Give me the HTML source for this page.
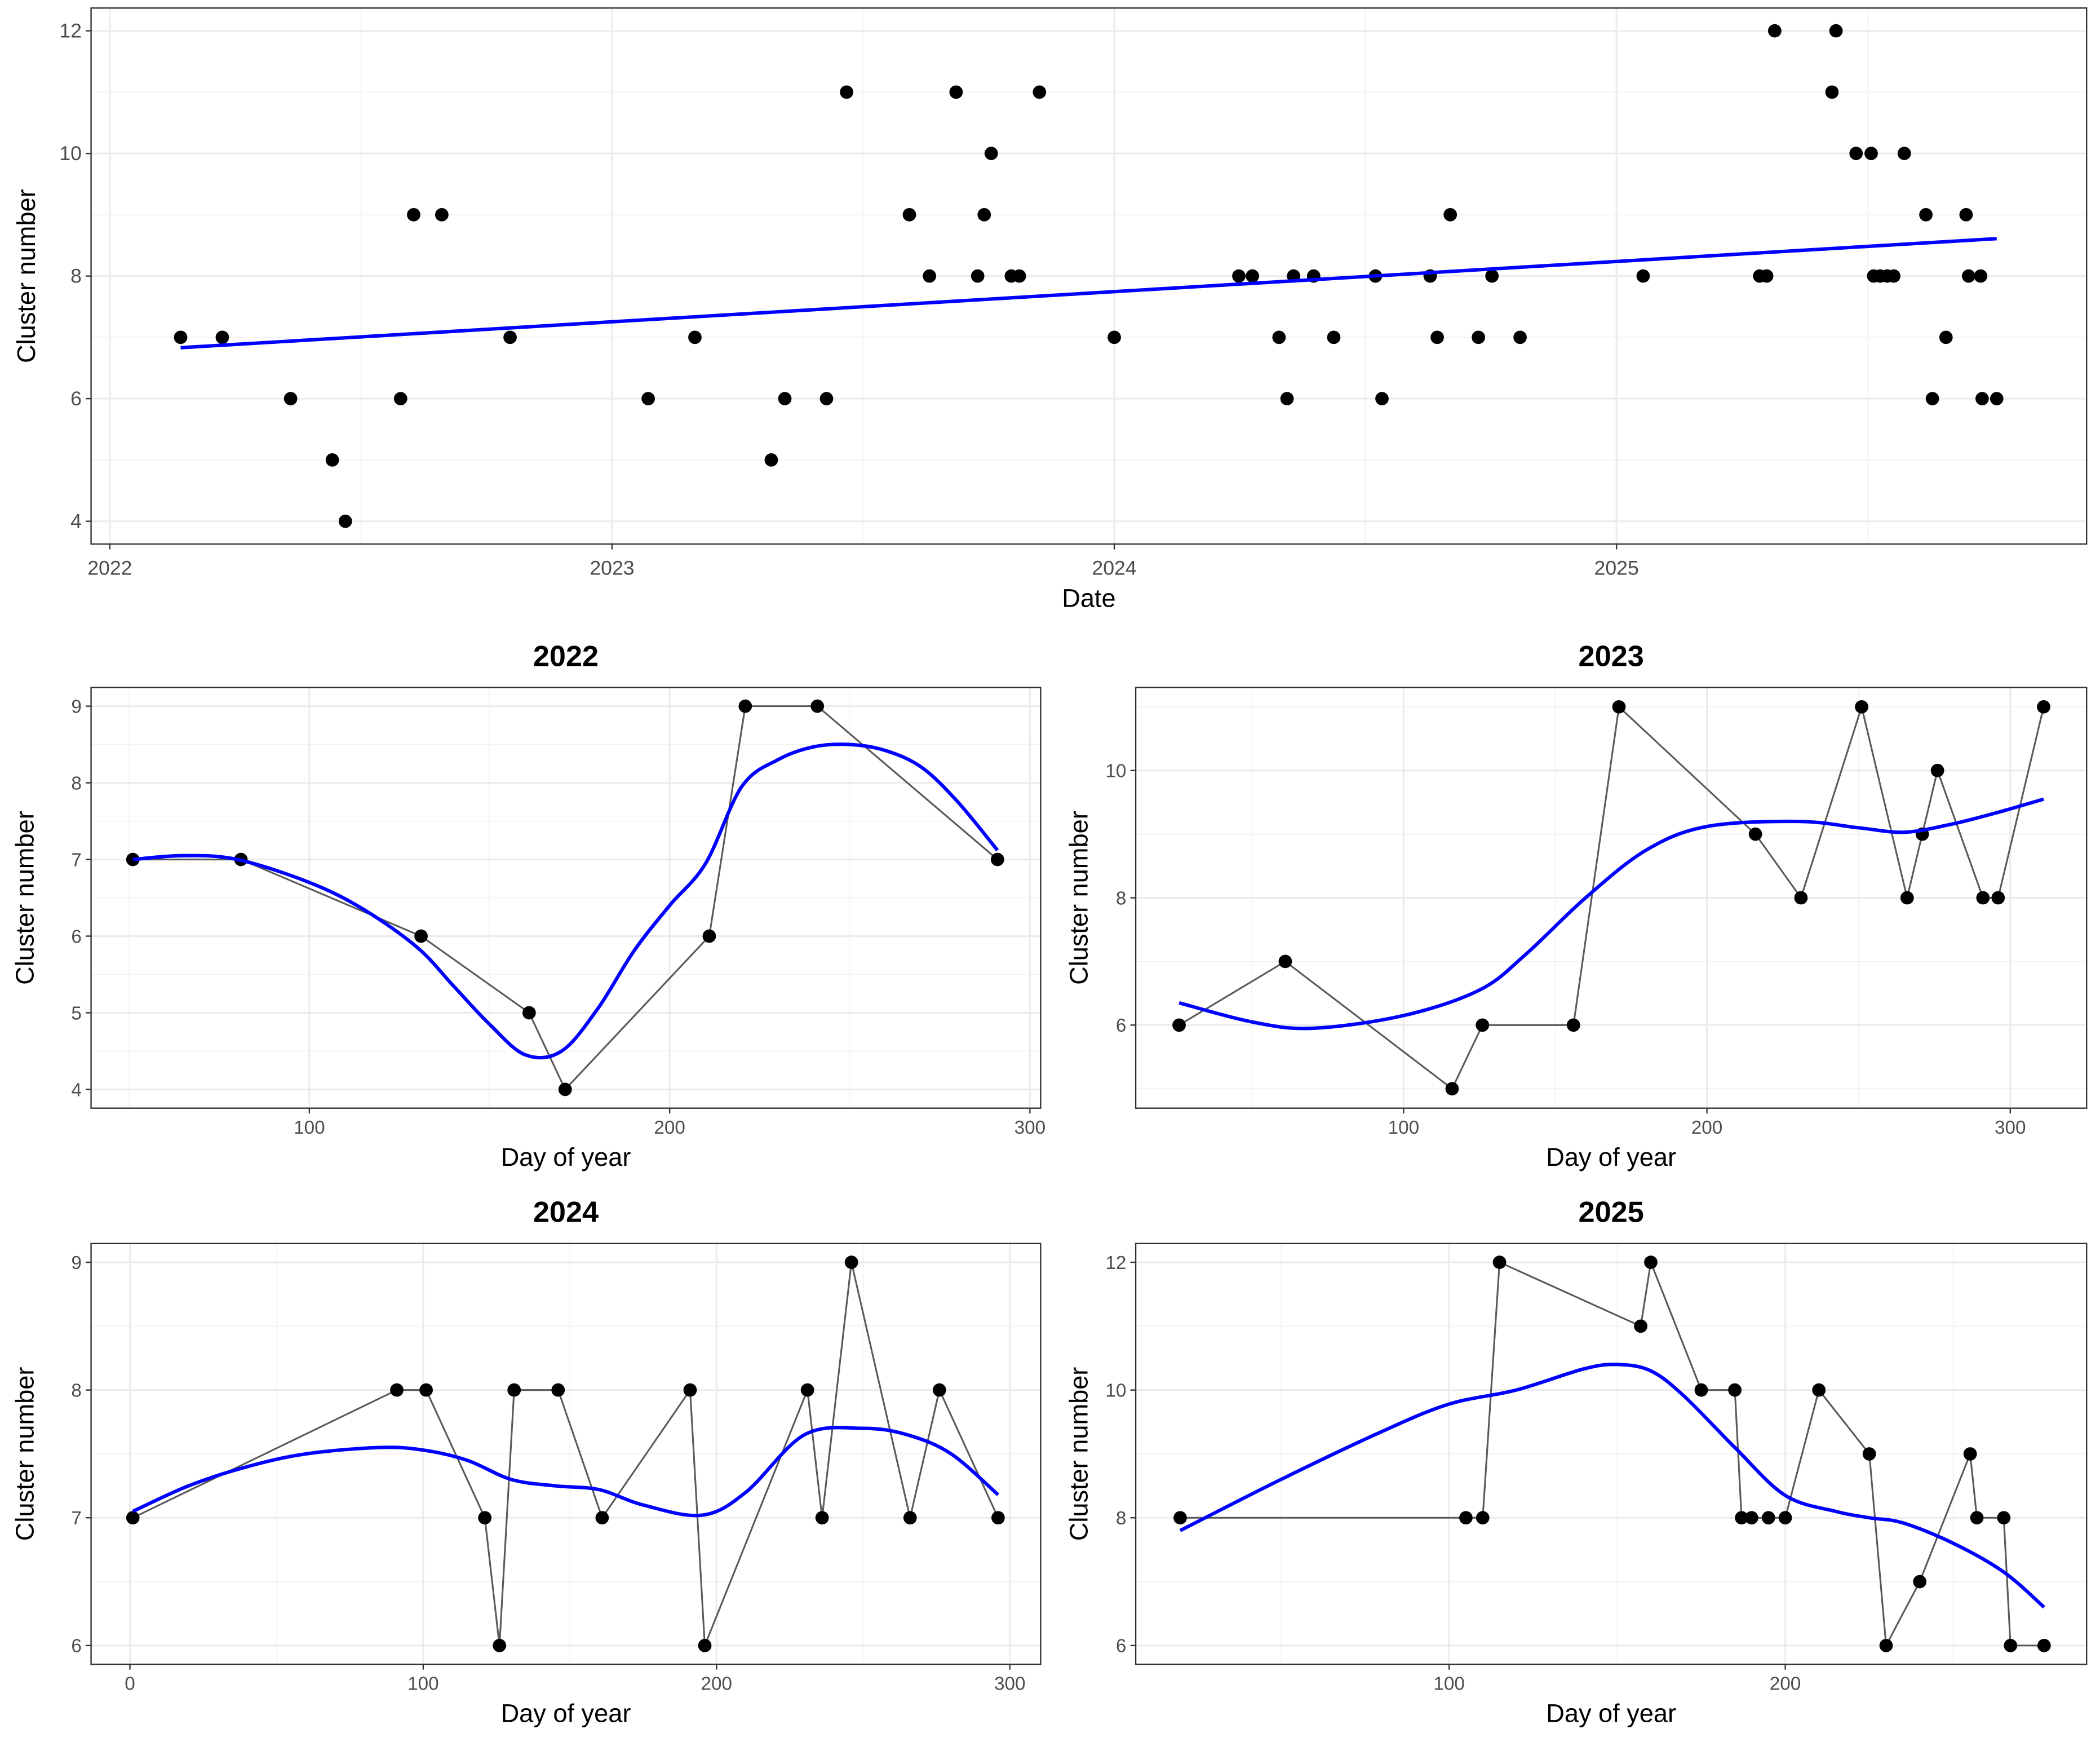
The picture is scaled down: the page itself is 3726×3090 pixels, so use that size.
<!DOCTYPE html>
<html><head><meta charset="utf-8">
<style>
html,body{margin:0;padding:0;background:#fff;}
svg{display:block;}
text{font-family:"Liberation Sans",sans-serif;}
</style></head>
<body>
<svg id="fig" xmlns="http://www.w3.org/2000/svg" width="3726" height="3090" viewBox="0 0 1568 1300" preserveAspectRatio="none"></svg>
<script>
// ---- Top panel data (date as fractional year, cluster number) ----
const topDates = [2022.141,2022.224,2022.360,2022.443,2022.469,2022.579,2022.605,2022.661,2022.797,2023.072,2023.165,2023.317,2023.344,2023.427,2023.467,2023.592,2023.632,2023.685,2023.728,2023.741,2023.755,2023.795,2023.811,2023.851,2024.000,2024.248,2024.275,2024.328,2024.344,2024.357,2024.397,2024.437,2024.520,2024.533,2024.629,2024.643,2024.669,2024.725,2024.752,2024.808,2025.053,2025.285,2025.299,2025.315,2025.429,2025.437,2025.477,2025.507,2025.512,2025.525,2025.539,2025.552,2025.573,2025.616,2025.629,2025.656,2025.696,2025.701,2025.725,2025.728,2025.757];
const topValues = [7,7,6,5,4,6,9,9,7,6,7,5,6,6,11,9,8,11,8,9,10,8,8,11,7,8,8,7,6,8,8,7,8,6,8,7,9,7,8,7,8,8,8,12,11,12,10,10,8,8,8,8,10,9,6,7,9,8,8,6,6];
const topXTicks = [2022,2023,2024,2025];
const topYTicks = [4,6,8,10,12];

// ---- Yearly panels ----
const days2022 = [51,81,131,161,171,211,221,241,291];
const vals2022 = [7,7,6,5,4,6,9,9,7];
const smoothDays2022 = [51,65,80,100,115,130,140,150,160,170,180,190,200,210,220,230,240,250,260,270,280,291];
const smoothVals2022 = [7.0,7.05,7.0,6.7,6.35,5.85,5.35,4.85,4.45,4.5,5.05,5.8,6.4,6.95,7.95,8.3,8.47,8.5,8.42,8.2,7.75,7.12];

const days2023 = [26,61,116,126,156,171,216,231,251,266,271,276,291,296,311];
const vals2023 = [6,7,5,6,6,11,9,8,11,8,9,10,8,8,11];
const smoothDays2023 = [26,50,70,100,125,140,160,180,200,230,250,265,280,295,311];
const smoothVals2023 = [6.35,6.05,5.95,6.15,6.55,7.1,8.0,8.75,9.12,9.2,9.1,9.03,9.15,9.33,9.55];

const days2024 = [1,91,101,121,126,131,146,161,191,196,231,236,246,266,276,296];
const vals2024 = [7,8,8,7,6,8,8,7,8,6,8,7,9,7,8,7];
const smoothDays2024 = [1,20,40,60,85,100,115,130,145,160,175,195,210,230,250,265,280,296];
const smoothVals2024 = [7.05,7.25,7.4,7.5,7.55,7.53,7.45,7.3,7.25,7.22,7.1,7.02,7.2,7.65,7.7,7.65,7.5,7.18];

const days2025 = [20,105,110,115,157,160,175,185,187,190,195,200,210,225,230,240,255,257,265,267,277];
const vals2025 = [8,8,8,12,11,12,10,10,8,8,8,8,10,9,6,7,9,8,8,6,6];
const smoothDays2025 = [20,50,80,100,120,140,150,160,170,185,200,215,225,235,250,265,277];
const smoothVals2025 = [7.8,8.6,9.35,9.78,10.0,10.33,10.4,10.3,9.9,9.1,8.35,8.1,8.0,7.92,7.6,7.15,6.6];

const NS="http://www.w3.org/2000/svg";
const svg=document.getElementById('fig');
function mk(tag,attrs,parent){const e=document.createElementNS(NS,tag);for(const k in attrs)e.setAttribute(k,attrs[k]);(parent||svg).appendChild(e);return e;}

function catmull(pts){
  if(pts.length<3) return 'M'+pts.map(p=>p[0]+','+p[1]).join(' L');
  let d='M'+pts[0][0]+','+pts[0][1];
  for(let i=0;i<pts.length-1;i++){
    const p0=pts[i-1]||pts[i],p1=pts[i],p2=pts[i+1],p3=pts[i+2]||pts[i+1];
    const c1=[p1[0]+(p2[0]-p0[0])/6,p1[1]+(p2[1]-p0[1])/6];
    const c2=[p2[0]-(p3[0]-p1[0])/6,p2[1]-(p3[1]-p1[1])/6];
    d+=' C'+c1[0]+','+c1[1]+' '+c2[0]+','+c2[1]+' '+p2[0]+','+p2[1];
  }
  return d;
}

function panel(cfg){
  const g=mk('g',{});
  
  
  const sx=v=>cfg.px0+(v-cfg.xa)*(cfg.px1-cfg.px0)/(cfg.xb-cfg.xa);
  const sy=v=>cfg.py0+(v-cfg.ya)*(cfg.py1-cfg.py0)/(cfg.yb-cfg.ya);
  const L=cfg.L,R=cfg.R,T=cfg.T,B=cfg.B;
  cfg.xminor.forEach(v=>{const l=mk('line',{x1:sx(v),x2:sx(v),y1:T,y2:B,stroke:'#f2f2f2','stroke-width':0.7},g);});
  cfg.yminor.forEach(v=>{const l=mk('line',{x1:L,x2:R,y1:sy(v),y2:sy(v),stroke:'#f2f2f2','stroke-width':0.7},g);});
  cfg.xticks.forEach(v=>{const l=mk('line',{x1:sx(v),x2:sx(v),y1:T,y2:B,stroke:'#ebebeb','stroke-width':1.3},g);});
  cfg.yticks.forEach(v=>{const l=mk('line',{x1:L,x2:R,y1:sy(v),y2:sy(v),stroke:'#ebebeb','stroke-width':1.3},g);});
  cfg.xticks.forEach(v=>{
    mk('line',{x1:sx(v),x2:sx(v),y1:B,y2:B+4,stroke:'#333','stroke-width':1},g);
    const t=mk('text',{x:sx(v),y:B+cfg.xlo,'text-anchor':'middle','font-size':cfg.tfs,fill:'#4d4d4d'},g);
    t.textContent=v;
    
    
  });
  cfg.yticks.forEach(v=>{
    mk('line',{x1:L-4,x2:L,y1:sy(v),y2:sy(v),stroke:'#333','stroke-width':1},g);
    const t=mk('text',{x:L-7,y:sy(v)+5,'text-anchor':'end','font-size':cfg.tfs,fill:'#4d4d4d'},g);
    t.textContent=v;
    
    
  });
  if(cfg.connect){
    const p=mk('polyline',{points:cfg.xs.map((x,i)=>sx(x)+','+sy(cfg.ys[i])).join(' '),fill:'none',stroke:'#595959','stroke-width':1.3},g);
    
    
  }
  let sxs=cfg.smx, sys=cfg.smy;
  if(cfg.lm){
    const n=cfg.xs.length;let mx=0,my=0;cfg.xs.forEach((x,i)=>{mx+=x;my+=cfg.ys[i];});mx/=n;my/=n;
    let num=0,den=0;cfg.xs.forEach((x,i)=>{num+=(x-mx)*(cfg.ys[i]-my);den+=(x-mx)*(x-mx);});
    const b=num/den,a=my-b*mx;const x0=Math.min(...cfg.xs),x1=Math.max(...cfg.xs);
    sxs=[x0,x1];sys=[a+b*x0,a+b*x1];
  }
  cfg.xs.forEach((x,i)=>{
    const c=mk('circle',{cx:sx(x),cy:sy(cfg.ys[i]),r:cfg.r,fill:'#000'},g);
    
    
  });
  const sp=mk('path',{d:catmull(sxs.map((x,i)=>[sx(x),sy(sys[i])])),fill:'none',stroke:'#0000ff','stroke-width':2.6,'stroke-linejoin':'round'},g);
  
  
  const bd=mk('rect',{x:L,y:T,width:R-L,height:B-T,fill:'none',stroke:'#333','stroke-width':1},g);
  
  
  const xt=mk('text',{x:(L+R)/2,y:B+cfg.xto,'text-anchor':'middle','font-size':19,fill:'#000'},g);
  xt.textContent=cfg.xtitle;
  
  
  const yx=cfg.ytx, yy=(T+B)/2;
  const yt=mk('text',{x:yx,y:yy,'text-anchor':'middle','font-size':19,fill:'#000',transform:'rotate(-90 '+yx+' '+yy+')'},g);
  yt.textContent='Cluster number';
  
  
  if(cfg.title){
    const tt=mk('text',{x:(L+R)/2,y:T-16,'text-anchor':'middle','font-size':22,'font-weight':'bold',fill:'#000'},g);
    tt.textContent=cfg.title;
    
    
  }
}

panel({name:'overall-panel',L:68,R:1558,T:6,B:406,xa:2022,xb:2025,px0:82,px1:1207,ya:4,yb:12,py0:389,py1:23,
  xticks:topXTicks,yticks:topYTicks,xminor:[2022.5,2023.5,2024.5,2025.5],yminor:[5,7,9,11],
  xs:topDates,ys:topValues,lm:true,connect:false,r:5,tfs:15,xtitle:'Date',ytx:26,xlo:23,xto:47});

panel({name:'panel-2022',title:'2022',L:68,R:777,T:513,B:827,xa:100,xb:300,px0:231,px1:769,ya:4,yb:9,py0:813,py1:527,
  xticks:[100,200,300],yticks:[4,5,6,7,8,9],xminor:[50,150,250],yminor:[4.5,5.5,6.5,7.5,8.5],
  xs:days2022,ys:vals2022,smx:smoothDays2022,smy:smoothVals2022,connect:true,r:5,tfs:14,xtitle:'Day of year',ytx:25,xlo:19,xto:43});

panel({name:'panel-2023',title:'2023',L:848,R:1558,T:513,B:827,xa:100,xb:300,px0:1048,px1:1501,ya:6,yb:10,py0:765,py1:575,
  xticks:[100,200,300],yticks:[6,8,10],xminor:[50,150,250],yminor:[5,7,9,11],
  xs:days2023,ys:vals2023,smx:smoothDays2023,smy:smoothVals2023,connect:true,r:5,tfs:14,xtitle:'Day of year',ytx:812,xlo:19,xto:43});

panel({name:'panel-2024',title:'2024',L:68,R:777,T:928,B:1242,xa:0,xb:300,px0:97,px1:754,ya:6,yb:9,py0:1228,py1:942,
  xticks:[0,100,200,300],yticks:[6,7,8,9],xminor:[50,150,250],yminor:[6.5,7.5,8.5],
  xs:days2024,ys:vals2024,smx:smoothDays2024,smy:smoothVals2024,connect:true,r:5,tfs:14,xtitle:'Day of year',ytx:25,xlo:19,xto:43});

panel({name:'panel-2025',title:'2025',L:848,R:1558,T:928,B:1242,xa:100,xb:200,px0:1082,px1:1333,ya:6,yb:12,py0:1228,py1:942,
  xticks:[100,200],yticks:[6,8,10,12],xminor:[50,150,250],yminor:[7,9,11],
  xs:days2025,ys:vals2025,smx:smoothDays2025,smy:smoothVals2025,connect:true,r:5,tfs:14,xtitle:'Day of year',ytx:812,xlo:19,xto:43});
</script>
</body></html>
